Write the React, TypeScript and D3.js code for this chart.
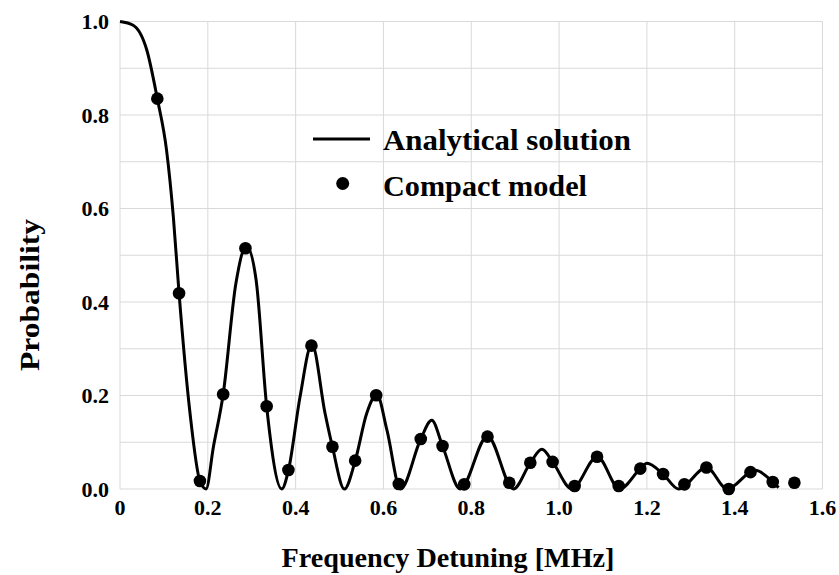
import React from "react";
import * as d3 from "d3";

const curveX = [0, 0.03, 0.061, 0.085, 0.106, 0.1215, 0.1345, 0.1595, 0.182, 0.196,
  0.2127, 0.235, 0.264, 0.288, 0.31, 0.334, 0.3685,
  0.3836, 0.41, 0.437, 0.467, 0.4839, 0.511,
  0.5356, 0.562, 0.585, 0.608, 0.639,
  0.685, 0.71, 0.7346, 0.775,
  0.837, 0.896,
  0.9345, 0.961, 0.9853, 1.029,
  1.087, 1.138,
  1.185, 1.2, 1.2369, 1.272,
  1.336, 1.383,
  1.436, 1.447, 1.4867, 1.5];
const curveY = [1.0, 0.992, 0.939, 0.835, 0.725, 0.582, 0.419, 0.162, 0.017, 0.0,
  0.09, 0.2026, 0.44, 0.52, 0.447, 0.177, 0.0,
  0.04, 0.197, 0.31, 0.162, 0.09, 0.0,
  0.06, 0.162, 0.202, 0.126, 0.0,
  0.107, 0.147, 0.092, 0.0,
  0.113, 0.0,
  0.056, 0.085, 0.058, 0.0,
  0.069, 0.0,
  0.0435, 0.055, 0.032, 0.0,
  0.046, 0.0,
  0.036, 0.04, 0.015, 0.003];

const modelX = [0.085, 0.1345, 0.182, 0.235, 0.2857, 0.334, 0.3836, 0.436, 0.4839, 0.5356,
  0.5835, 0.635, 0.685, 0.7346, 0.784, 0.837, 0.8866, 0.9345, 0.9853, 1.0355,
  1.0865, 1.1358, 1.185, 1.2369, 1.2855, 1.3356, 1.3865, 1.436, 1.4867, 1.536];
const modelY = [0.835, 0.4186, 0.017, 0.2026, 0.515, 0.177, 0.0406, 0.3066, 0.0905, 0.0606,
  0.2004, 0.0107, 0.107, 0.092, 0.01, 0.112, 0.0135, 0.056, 0.058, 0.0064,
  0.069, 0.0064, 0.0435, 0.032, 0.01, 0.046, 0.0, 0.036, 0.015, 0.0135];

const xTicks = [0, 0.2, 0.4, 0.6, 0.8, 1.0, 1.2, 1.4, 1.6];
const xTickLabels = ["0", "0.2", "0.4", "0.6", "0.8", "1.0", "1.2", "1.4", "1.6"];
const yTicks = [0, 0.2, 0.4, 0.6, 0.8, 1.0];
const yTickLabels = ["0.0", "0.2", "0.4", "0.6", "0.8", "1.0"];
const yGrid = [0, 0.1, 0.2, 0.3, 0.4, 0.5, 0.6, 0.7, 0.8, 0.9, 1.0];

const FONT = "'Liberation Serif', 'Times New Roman', serif";

export default function App() {
  const W = 839, H = 575;
  const x = d3.scaleLinear().domain([0, 1.6]).range([120, 822.5]);
  const y = d3.scaleLinear().domain([0, 1]).range([489, 21.5]);
  const pts = curveX.map((v, i) => [v, curveY[i]] as [number, number]);
  const line = d3.line<[number, number]>()
    .x(d => x(d[0])).y(d => y(d[1])).curve(d3.curveMonotoneX);
  const grid = "#d9d9d9";
  return (
    <svg width={W} height={H} style={{ position: "absolute", left: 0, top: 0, background: "#fff" }}>
      {yGrid.map(v => (
        <line key={"yg" + v} x1={x(0)} x2={x(1.6)} y1={y(v)} y2={y(v)} stroke={grid} strokeWidth={1} />
      ))}
      {xTicks.map(v => (
        <line key={"xg" + v} x1={x(v)} x2={x(v)} y1={y(0)} y2={y(1)} stroke={grid} strokeWidth={1} />
      ))}
      <path d={line(pts) || ""} fill="none" stroke="#000" strokeWidth={3} />
      {modelX.map((v, i) => (
        <circle key={"p" + i} cx={x(v)} cy={y(modelY[i])} r={6.3} fill="#000" />
      ))}
      {xTicks.map((v, i) => (
        <text key={"xt" + v} x={x(v)} y={515} textAnchor="middle" fontFamily={FONT}
          fontWeight="bold" fontSize={22} fill="#000">{xTickLabels[i]}</text>
      ))}
      {yTicks.map((v, i) => (
        <text key={"yt" + v} x={109} y={y(v) + 7.5} textAnchor="end" fontFamily={FONT}
          fontWeight="bold" fontSize={22} fill="#000">{yTickLabels[i]}</text>
      ))}
      <text x={448} y={567} textAnchor="middle" fontFamily={FONT} fontWeight="bold"
        fontSize={28} fill="#000" textLength={333} lengthAdjust="spacingAndGlyphs">Frequency Detuning [MHz]</text>
      <text transform={`translate(39,295) rotate(-90)`} textAnchor="middle" fontFamily={FONT}
        fontWeight="bold" fontSize={28} fill="#000" textLength={152} lengthAdjust="spacingAndGlyphs">Probability</text>
      <line x1={313} x2={370} y1={139} y2={139} stroke="#000" strokeWidth={3} />
      <text x={383} y={150} fontFamily={FONT} fontWeight="bold" fontSize={29} fill="#000"
        textLength={248} lengthAdjust="spacingAndGlyphs">Analytical solution</text>
      <circle cx={342.7} cy={183.5} r={6.5} fill="#000" />
      <text x={383} y={196} fontFamily={FONT} fontWeight="bold" fontSize={29} fill="#000"
        textLength={204} lengthAdjust="spacingAndGlyphs">Compact model</text>
    </svg>
  );
}
